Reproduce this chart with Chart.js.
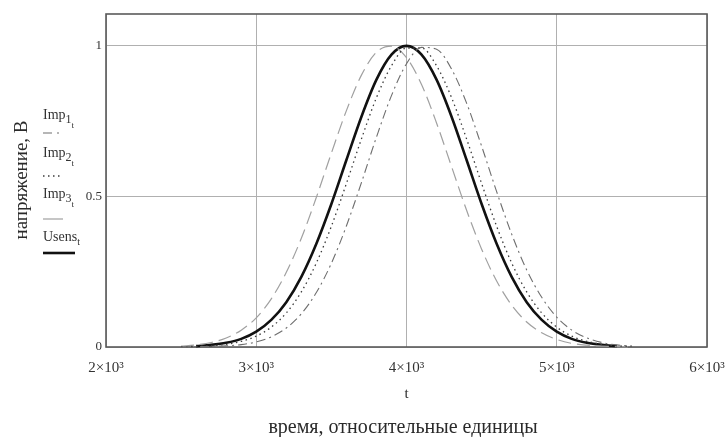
<!DOCTYPE html>
<html>
<head>
<meta charset="utf-8">
<script src="https://cdn.jsdelivr.net/npm/chart.js@4/dist/chart.umd.min.js"></script>
<style>
html,body{margin:0;padding:0;background:#fff;}
#wrap{width:728px;height:437px;position:relative;}
</style>
</head>
<body>
<div id="wrap"><canvas id="c" width="728" height="437"></canvas></div>
<script>
// time grid (relative units)
const times = [2500,2600,2700,2800,2900,3000,3100,3200,3300,3400,3500,3600,3700,3800,3900,4000,4100,4200,4300,4400,4500,4600,4700,4800,4900,5000,5100,5200,5300,5400,5500];
// Imp1 (dash-dot)
const imp1 = [0.000,0.001,0.002,0.004,0.008,0.017,0.034,0.063,0.110,0.181,0.278,0.402,0.546,0.697,0.835,0.941,0.995,0.989,0.923,0.810,0.667,0.516,0.375,0.256,0.165,0.099,0.056,0.030,0.015,0.007,0.003];
// Imp2 (dotted)
const imp2 = [0.001,0.002,0.004,0.009,0.019,0.036,0.066,0.113,0.183,0.279,0.401,0.543,0.691,0.828,0.934,0.993,0.993,0.934,0.828,0.691,0.543,0.401,0.279,0.183,0.113,0.066,0.036,0.019,0.009,0.004,0.002];
// Imp3 (long dash, light)
const imp3 = [0.003,0.007,0.015,0.030,0.056,0.097,0.160,0.248,0.361,0.497,0.644,0.785,0.903,0.979,0.999,0.961,0.872,0.744,0.599,0.454,0.325,0.219,0.139,0.083,0.047,0.025,0.012,0.006,0.003,0.001,0.000];
// Usens (thick solid)
const usens = [null,0.003,0.007,0.014,0.027,0.051,0.090,0.149,0.233,0.343,0.475,0.621,0.765,0.888,0.971,1.000,0.971,0.888,0.765,0.621,0.475,0.343,0.233,0.149,0.090,0.051,0.027,0.014,0.007,0.003,null];

const xTicks = [2000,3000,4000,5000,6000];
const xTickLabels = ['2×10³','3×10³','4×10³','5×10³','6×10³'];
const yTicks = [0,0.5,1];
const yTickLabels = ['0','0.5','1'];

const xTitle = 't';
const bottomTitle = 'время, относительные единицы';
const yTitle = 'напряжение, В';
const legendItems = [
  {base:'Imp', sub:'1', subsub:'t'},
  {base:'Imp', sub:'2', subsub:'t'},
  {base:'Imp', sub:'3', subsub:'t'},
  {base:'Usens', sub:'t', subsub:''}
];

const SERIF = '"Liberation Serif","DejaVu Serif",serif';
const toPts = arr => times.map((t,i)=>({x:t,y:arr[i]}));

const styles = [
  {color:'#6e6e6e', width:1.1, dash:[9,4,2,4]},
  {color:'#3c3c3c', width:1.3, dash:[1.5,3.5]},
  {color:'#a0a0a0', width:1.2, dash:[13,6]},
  {color:'#111111', width:2.6, dash:[]}
];
const legendDash = [[9,5,2,5],[1.5,3.5],[],[]];
const series = [imp1, imp2, imp3, usens];

const decorPlugin = {
  id:'decor',
  beforeDatasetsDraw(chart){
    const {ctx, chartArea:a} = chart;
    ctx.save();
    ctx.strokeStyle = '#5a5a5a';
    ctx.lineWidth = 1.6;
    ctx.strokeRect(a.left, a.top, a.right-a.left, a.bottom-a.top);
    ctx.restore();
  },
  afterDraw(chart){
    const {ctx, chartArea:a} = chart;
    ctx.save();
    ctx.fillStyle = '#2a2a2a';
    ctx.textAlign = 'center';
    ctx.textBaseline = 'middle';
    // x title
    ctx.font = '15px ' + SERIF;
    ctx.fillText(xTitle, (a.left+a.right)/2, 394);
    // bottom title
    ctx.font = '20px ' + SERIF;
    ctx.fillText(bottomTitle, 403, 428);
    // y title
    ctx.save();
    ctx.translate(22, 180);
    ctx.rotate(-Math.PI/2);
    ctx.font = '19px ' + SERIF;
    ctx.fillText(yTitle, 0, 0);
    ctx.restore();
    // legend
    const textY = [115, 153, 194, 237];
    const lineY = [133, 176, 219, 253];
    const lineX2 = [62, 62, 63, 75];
    legendItems.forEach((it, i) => {
      ctx.fillStyle = '#333';
      ctx.textAlign = 'left';
      ctx.textBaseline = 'alphabetic';
      ctx.font = '14px ' + SERIF;
      let x = 43;
      const by = textY[i] + 4;
      ctx.fillText(it.base, x, by);
      x += ctx.measureText(it.base).width;
      ctx.font = (it.subsub ? '12px ' : '10px ') + SERIF;
      ctx.fillText(it.sub, x, by + 4);
      x += ctx.measureText(it.sub).width;
      if (it.subsub) {
        ctx.font = '9px ' + SERIF;
        ctx.fillText(it.subsub, x, by + 9);
      }
      const s = styles[i];
      ctx.strokeStyle = s.color;
      ctx.lineWidth = s.width;
      ctx.setLineDash(legendDash[i]);
      ctx.beginPath();
      ctx.moveTo(43, lineY[i]);
      ctx.lineTo(lineX2[i], lineY[i]);
      ctx.stroke();
      ctx.setLineDash([]);
    });
    ctx.restore();
  }
};

new Chart(document.getElementById('c'), {
  type:'line',
  data:{
    datasets: series.map((arr,i)=>({
      label: legendItems[i].base + legendItems[i].sub,
      data: toPts(arr),
      borderColor: styles[i].color,
      borderWidth: styles[i].width,
      borderDash: styles[i].dash,
      pointRadius: 0,
      fill: false,
      cubicInterpolationMode: 'monotone',
      spanGaps: false,
      clip: false
    }))
  },
  options:{
    responsive:false,
    animation:false,
    layout:{padding:{left:0,right:21,top:14,bottom:0}},
    plugins:{legend:{display:false}, tooltip:{enabled:false}},
    scales:{
      x:{
        type:'linear', min:2000, max:6000,
        afterFit(s){ s.height = 90; s.paddingLeft = 0; s.paddingRight = 0; },
        afterBuildTicks(s){ s.ticks = xTicks.map(v=>({value:v})); },
        grid:{color:'#b0b0b0', lineWidth:1, drawTicks:false},
        border:{display:false},
        ticks:{
          padding:12,
          color:'#333',
          font:{family:SERIF, size:15},
          maxRotation:0, autoSkip:false,
          callback:(v)=>{const k=xTicks.indexOf(v); return k>=0?xTickLabels[k]:'';}
        },
        title:{display:false}
      },
      y:{
        type:'linear', min:0, max:1.106,
        afterFit(s){ s.width = 106; s.paddingTop = 0; s.paddingBottom = 0; },
        afterBuildTicks(s){ s.ticks = yTicks.map(v=>({value:v})); },
        grid:{color:'#b0b0b0', lineWidth:1, drawTicks:false},
        border:{display:false},
        ticks:{
          padding:4,
          color:'#333',
          font:{family:SERIF, size:13},
          callback:(v)=>{const k=yTicks.indexOf(v); return k>=0?yTickLabels[k]:'';}
        }
      }
    }
  },
  plugins:[decorPlugin]
});
</script>
</body>
</html>
